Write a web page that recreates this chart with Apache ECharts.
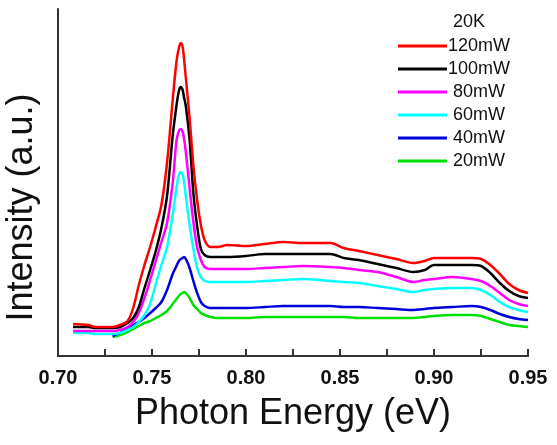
<!DOCTYPE html>
<html>
<head>
<meta charset="utf-8">
<title>PL spectra 20K</title>
<script src="https://cdn.jsdelivr.net/npm/echarts@6/dist/echarts.min.js"></script>
<style>
  html, body { margin: 0; padding: 0; background: #fff; }
  #chart { width: 557px; height: 445px; }
</style>
</head>
<body>
<div id="chart"></div>
<script>
// photon energy (eV), shared by all spectra
var energy = [0.708, 0.716, 0.72, 0.725, 0.729, 0.733, 0.737, 0.740, 0.743, 0.746,
  0.749, 0.752, 0.755, 0.758, 0.761, 0.763, 0.7643, 0.7653, 0.7663, 0.767,
  0.768, 0.770, 0.772, 0.774, 0.776, 0.778, 0.781, 0.785, 0.79, 0.80,
  0.81, 0.82, 0.83, 0.845, 0.852, 0.86, 0.87, 0.88, 0.889, 0.895,
  0.90, 0.91, 0.92, 0.925, 0.93, 0.935, 0.94, 0.945, 0.95]

// intensity (a.u.) per excitation power
var p120 = [32, 31, 29, 29, 29, 31, 35, 48, 71, 91,
  109, 129, 151, 193, 256, 294, 308, 313, 309, 298,
  278, 238, 191, 156, 131, 116, 109, 109, 111, 110,
  112, 114, 113, 113, 108, 105, 101, 97, 93, 95,
  98, 98, 98, 97, 91, 82, 72, 66, 63]
var p100 = [29, 29, 28, 28, 28, 29, 33, 38, 49, 68,
  86, 105, 128, 160, 220, 250, 265, 269, 266, 259,
  250, 216, 163, 130, 107, 101, 99, 99, 99, 100,
  102, 102, 102, 102, 98, 96, 92, 88, 84, 86,
  91, 91, 91, 90, 83, 73, 65, 60, 58]
var p80 = [25, 25, 25, 25, 25, 26, 29, 34, 43, 58,
  76, 95, 114, 133, 173, 215, 225, 227, 224, 218,
  204, 168, 134, 109, 96, 89, 87, 87, 87, 87,
  88, 89, 90, 89, 88, 86, 84, 79, 74, 76,
  77, 79, 77, 75, 70, 63, 56, 52, 50]
var p60 = [23, 23, 22, 22, 22, 23, 26, 29, 34, 41,
  52, 72, 91, 109, 141, 168, 181, 184, 181, 175,
  160, 131, 107, 88, 79, 75, 74, 74, 74, 74,
  75, 76, 77, 75, 74, 73, 70, 67, 64, 66,
  67, 68, 68, 66, 61, 54, 49, 46, 44]
var p40 = [null, null, null, null, 20, 23, 28, 31, 34, 38,
  43, 48, 54, 66, 82, 90, 95, 97, 98, 99,
  97, 88, 75, 63, 54, 50, 48, 48, 48, 48,
  49, 50, 50, 50, 49, 49, 48, 47, 46, 47,
  48, 49, 50, 49, 46, 42, 39, 37, 36]
var p20 = [null, null, null, null, 19, 21, 24, 27, 30, 33,
  35, 38, 41, 45, 52, 57, 60, 62, 63, 64,
  63, 58, 51, 47, 43, 41, 39, 38, 38, 38,
  39, 39, 39, 39, 39, 38, 38, 38, 38, 39,
  40, 41, 41, 40, 37, 34, 31, 30, 29]

var powers = ['120mW', '100mW', '80mW', '60mW', '40mW', '20mW']
var spectra = [p120, p100, p80, p60, p40, p20]
var colors = ['#ff0000', '#000000', '#ff00ff', '#00ffff', '#0000dd', '#00e000']

var FONT = 'Liberation Sans, Arial, sans-serif'
var AXIS_COLOR = '#333'

function toPairs(ys) {
  var out = []
  ys.forEach(function (y, i) {
    if (y !== null) out.push([energy[i], y])
  })
  return out
}

var chart = echarts.init(document.getElementById('chart'))

chart.setOption({
  animation: false,
  color: colors,
  title: {
    text: '20K',
    left: 448,
    top: 8,
    textStyle: { fontFamily: FONT, fontSize: 18, fontWeight: 'normal', color: '#111' }
  },
  legend: {
    orient: 'vertical',
    left: 393,
    top: 32,
    icon: 'rect',
    itemWidth: 49,
    itemHeight: 3,
    itemGap: 5,
    data: powers,
    formatter: function (name) { return '{n|' + name + '}' },
    textStyle: {
      fontFamily: FONT,
      fontSize: 18,
      color: '#111',
      rich: {
        n: { width: 54, align: 'center', fontSize: 18, lineHeight: 18, fontFamily: FONT, color: '#111' }
      }
    }
  },
  grid: { left: 58, right: 29, top: 9, bottom: 89, outerBoundsMode: 'none', show: false },
  xAxis: [
    {
      type: 'value',
      min: 0.70,
      max: 0.95,
      interval: 0.05,
      z: 20,
      name: 'Photon Energy (eV)',
      nameLocation: 'middle',
      nameGap: 40,
      nameTextStyle: { fontFamily: FONT, fontSize: 36, color: '#111' },
      axisLine: { show: true, onZero: false, lineStyle: { color: AXIS_COLOR, width: 2 } },
      axisTick: { show: true, inside: true, length: 7, lineStyle: { color: AXIS_COLOR, width: 2 } },
      minorTick: { show: true, splitNumber: 2, length: 7, lineStyle: { color: AXIS_COLOR, width: 2 } },
      axisLabel: {
        margin: 12,
        fontFamily: FONT,
        fontSize: 20,
        fontWeight: 'bold',
        color: '#111',
        formatter: function (v) { return v.toFixed(2) }
      },
      splitLine: { show: false }
    },
    {
      // plain copy of the energy axis laid on the bottom edge, for the line and tick marks
      type: 'value',
      min: 0.70,
      max: 0.95,
      interval: 0.05,
      z: 20,
      position: 'top',
      offset: -347,
      axisLine: { show: true, onZero: false, lineStyle: { color: AXIS_COLOR, width: 2 } },
      axisTick: { show: true, length: 7, lineStyle: { color: AXIS_COLOR, width: 2 } },
      minorTick: { show: true, splitNumber: 2, length: 7, lineStyle: { color: AXIS_COLOR, width: 2 } },
      axisLabel: { show: false },
      splitLine: { show: false }
    }
  ],
  yAxis: {
    type: 'value',
    min: 0,
    max: 347,
    z: 20,
    name: 'Intensity (a.u.)',
    nameLocation: 'middle',
    nameGap: 18,
    nameTextStyle: { fontFamily: FONT, fontSize: 36, color: '#111', padding: [0, 50, 0, 0] },
    axisLine: { show: true, onZero: false, lineStyle: { color: AXIS_COLOR, width: 2 } },
    axisTick: { show: false },
    axisLabel: { show: false },
    splitLine: { show: false }
  },
  series: powers.map(function (p, i) {
    return {
      name: p,
      type: 'line',
      xAxisIndex: 0,
      data: toPairs(spectra[i]),
      showSymbol: false,
      smooth: 0.3,
      lineStyle: { width: 2.5 },
      z: 10 - i
    }
  })
})
</script>
</body>
</html>
